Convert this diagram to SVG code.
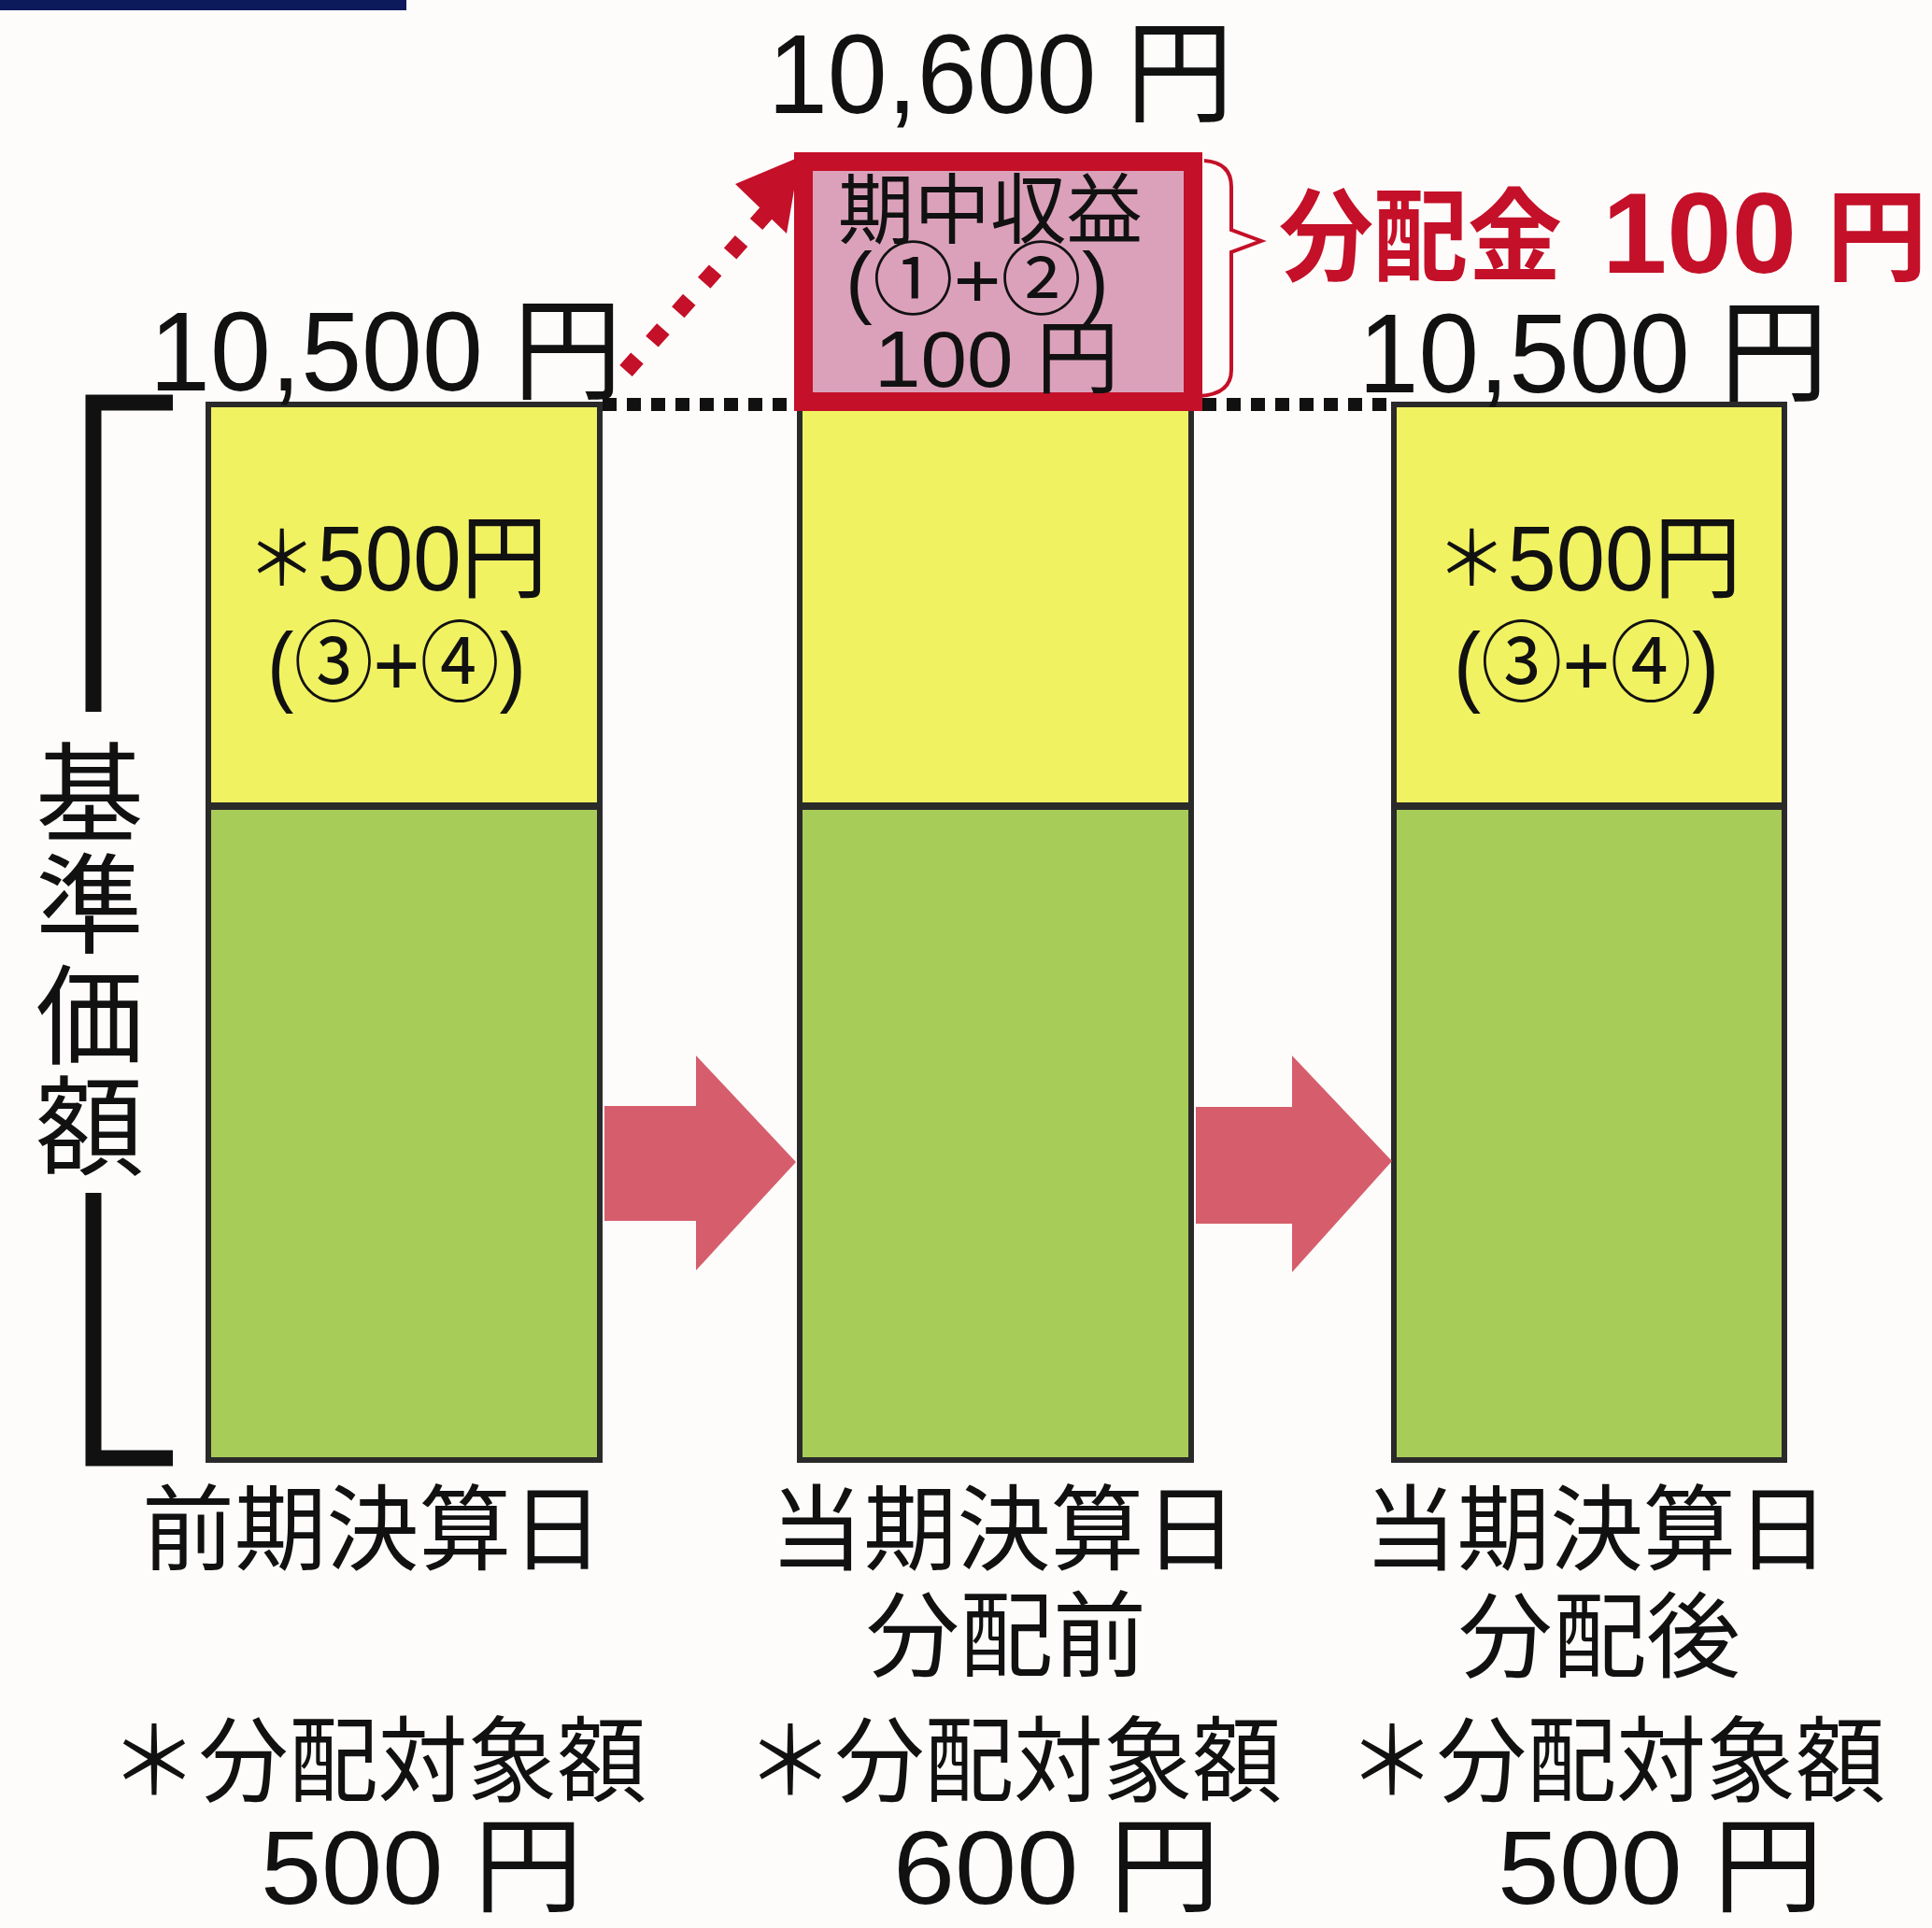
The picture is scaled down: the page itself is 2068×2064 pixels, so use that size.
<svg xmlns="http://www.w3.org/2000/svg" width="2068" height="2064" viewBox="0 0 2068 2064">
<defs>
<style>
.num{font-family:"Liberation Sans","Noto Sans CJK JP",sans-serif;fill:#111;}
.jp{font-family:"Noto Sans CJK JP","Liberation Sans",sans-serif;fill:#111;}
.yel{fill:#F0F262;}
.grn{fill:#A8CC58;}
.frame{fill:none;stroke:#2a2a2a;stroke-width:6;}
.div{stroke:#2a2a2a;stroke-width:8;}
.arrow{fill:#D65E6C;}
.red{fill:#C41028;}
</style>
</defs>
<rect x="0" y="0" width="2068" height="2064" fill="#FDFCFB"/>
<rect x="0" y="0" width="435" height="11" fill="#0C1A5B"/>

<g id="bracket">
<path d="M185,431 H100 V762 M100,1277 V1561 H185" fill="none" stroke="#111" stroke-width="17"/>
<text class="jp" font-size="116" x="96" y="790" style="writing-mode:vertical-rl;letter-spacing:3px">基準価額</text>
</g>

<g id="bar-prev">
<rect class="yel" x="223" y="433" width="419" height="430"/>
<rect class="grn" x="223" y="863" width="419" height="700"/>
<line class="div" x1="223" y1="863" x2="642" y2="863"/>
<rect class="frame" x="223" y="433" width="419" height="1130"/>
<text class="jp" font-size="98" x="264" y="632" textLength="322" lengthAdjust="spacingAndGlyphs"><tspan font-size="80" dy="-6">＊</tspan><tspan class="num" dy="6">500</tspan>円</text>
<text class="num" font-size="95" x="286" y="744" textLength="277" lengthAdjust="spacingAndGlyphs">(③+④)</text>
<text class="jp" font-size="100" x="152" y="1673" textLength="494" lengthAdjust="spacingAndGlyphs">前期決算日</text>
<text class="jp" font-size="100" x="117" y="1921" textLength="575" lengthAdjust="spacingAndGlyphs">＊分配対象額</text>
<text class="num" font-size="112" x="279" y="2038" textLength="345" lengthAdjust="spacingAndGlyphs">500 円</text>
</g>

<g id="bar-before">
<rect class="yel" x="856" y="433" width="419" height="430"/>
<rect class="grn" x="856" y="863" width="419" height="700"/>
<line class="div" x1="856" y1="863" x2="1275" y2="863"/>
<rect class="frame" x="856" y="433" width="419" height="1130"/>
<text class="jp" font-size="100" x="824" y="1673" textLength="501" lengthAdjust="spacingAndGlyphs">当期決算日</text>
<text class="jp" font-size="100" x="927" y="1787" textLength="300" lengthAdjust="spacingAndGlyphs">分配前</text>
<text class="jp" font-size="100" x="798" y="1921" textLength="574" lengthAdjust="spacingAndGlyphs">＊分配対象額</text>
<text class="num" font-size="112" x="956" y="2038" textLength="350" lengthAdjust="spacingAndGlyphs">600 円</text>
</g>

<g id="bar-after">
<rect class="yel" x="1492" y="433" width="418" height="430"/>
<rect class="grn" x="1492" y="863" width="418" height="700"/>
<line class="div" x1="1492" y1="863" x2="1910" y2="863"/>
<rect class="frame" x="1492" y="433" width="418" height="1130"/>
<text class="jp" font-size="98" x="1537" y="632" textLength="327" lengthAdjust="spacingAndGlyphs"><tspan font-size="80" dy="-6">＊</tspan><tspan class="num" dy="6">500</tspan>円</text>
<text class="num" font-size="95" x="1556" y="744" textLength="284" lengthAdjust="spacingAndGlyphs">(③+④)</text>
<text class="jp" font-size="100" x="1460" y="1673" textLength="498" lengthAdjust="spacingAndGlyphs">当期決算日</text>
<text class="jp" font-size="100" x="1561" y="1788" textLength="302" lengthAdjust="spacingAndGlyphs">分配後</text>
<text class="jp" font-size="100" x="1442" y="1921" textLength="576" lengthAdjust="spacingAndGlyphs">＊分配対象額</text>
<text class="num" font-size="112" x="1603" y="2038" textLength="349" lengthAdjust="spacingAndGlyphs">500 円</text>
</g>

<g id="connectors">
<line x1="645" y1="433" x2="851" y2="433" stroke="#111" stroke-width="14" stroke-dasharray="15 11"/>
<line x1="1287" y1="433" x2="1492" y2="433" stroke="#111" stroke-width="14" stroke-dasharray="15 11"/>
<polygon class="arrow" points="647,1184 745,1184 745,1130 852,1244 745,1360 745,1307 647,1307"/>
<polygon class="arrow" points="1280,1185 1383,1185 1383,1130 1490,1243 1383,1362 1383,1310 1280,1310"/>
<line x1="670" y1="397" x2="822" y2="226" stroke="#C41028" stroke-width="18" stroke-dasharray="18 24"/>
<polygon class="red" points="787,197 856,168 842,250"/>
<path d="M1289,172 Q1318,174 1318,200 V246 L1350,258 L1318,270 V396 Q1318,422 1284,424" fill="none" stroke="#C41028" stroke-width="4"/>
</g>

<g id="income-box">
<rect x="860" y="173" width="417" height="257" fill="#DCA1BA" stroke="#C41028" stroke-width="20"/>
<text class="jp" font-size="82" x="897" y="254" textLength="326" lengthAdjust="spacingAndGlyphs">期中収益</text>
<text class="num" font-size="85" x="905" y="330" textLength="282" lengthAdjust="spacingAndGlyphs">(①+②)</text>
<text class="num" font-size="86" x="936" y="414" textLength="262" lengthAdjust="spacingAndGlyphs">100 円</text>
</g>

<g id="value-labels">
<text class="num" font-size="120" x="822" y="121" textLength="498" lengthAdjust="spacingAndGlyphs">10,600 円</text>
<text class="num" font-size="120" x="160" y="418" textLength="506" lengthAdjust="spacingAndGlyphs">10,500 円</text>
<text class="num" font-size="120" x="1454" y="420" textLength="503" lengthAdjust="spacingAndGlyphs">10,500 円</text>
</g>

<g id="distribution-label" font-weight="bold">
<text class="jp" font-size="108" x="1369" y="292" textLength="303" lengthAdjust="spacingAndGlyphs" style="fill:#C41028">分配金</text>
<text class="num" font-size="122" x="1715" y="292" textLength="208" lengthAdjust="spacingAndGlyphs" style="fill:#C41028">100</text>
<text class="jp" font-size="108" x="1955" y="292" style="fill:#C41028">円</text>
</g>
</svg>
